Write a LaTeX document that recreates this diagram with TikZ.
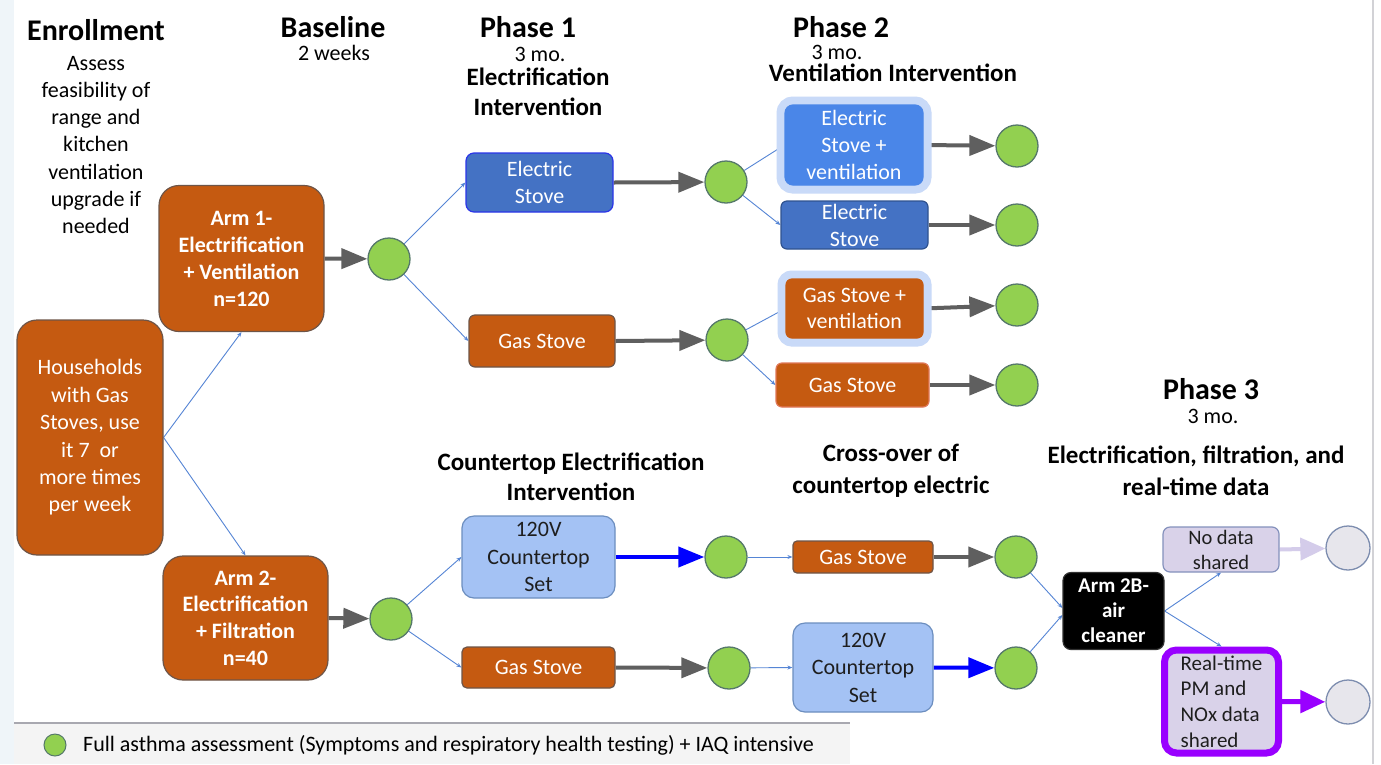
\documentclass[tikz,border=0pt]{standalone}
\usepackage{fontspec}
\setmainfont{Carlito}
\usetikzlibrary{arrows.meta,backgrounds}
\definecolor{orng}{HTML}{C55A11}
\definecolor{orngdraw}{HTML}{6E5548}
\definecolor{orngpale}{HTML}{E07858}
\definecolor{blueA}{HTML}{4472C4}
\definecolor{blueAdraw}{HTML}{2B35E8}
\definecolor{blueB}{HTML}{4A86E8}
\definecolor{blueBdraw}{HTML}{2F528F}
\definecolor{halocol}{HTML}{C9DAF8}
\definecolor{ltblue}{HTML}{A4C2F4}
\definecolor{ltbluedraw}{HTML}{6C8EBF}
\definecolor{lav}{HTML}{D9D2E9}
\definecolor{lavdraw}{HTML}{8491BC}
\definecolor{purp}{HTML}{9900FF}
\definecolor{lavarrow}{HTML}{D4CCEA}
\definecolor{grn}{HTML}{92D050}
\definecolor{grndraw}{HTML}{55786A}
\definecolor{gcirc}{HTML}{E7E6EC}
\definecolor{gcircdraw}{HTML}{7D8DAF}
\definecolor{thinblue}{HTML}{5585D5}
\definecolor{greyarrow}{HTML}{5F5F5F}
\definecolor{purebl}{HTML}{0000FF}
\definecolor{blackdraw}{HTML}{323232}
\definecolor{darktext}{HTML}{1E1E1E}
\definecolor{stripc}{HTML}{EFF5F9}
\definecolor{legbg}{HTML}{F4F4F4}
\definecolor{legline}{HTML}{A8A8B0}
\definecolor{edgec}{HTML}{D2D2D6}
\newcommand{\fsBox}{\fontsize{22}{27}\selectfont}
\newcommand{\fsTitle}{\fontsize{30}{36}\selectfont\bfseries}
\tikzset{
  box/.style={rectangle, draw, align=center, inner sep=0pt, text=white, font=\fsBox, line width=1.2pt},
  obox/.style={box, fill=orng, draw=orngdraw},
  circ/.style={circle, draw=grndraw, fill=grn, line width=1.3pt, minimum size=42pt, inner sep=0pt},
  gcircle/.style={circle, draw=gcircdraw, fill=gcirc, line width=1.3pt, minimum size=44pt, inner sep=0pt},
  halo/.style={preaction={draw=halocol, line width=17pt}},
  thinline/.style={draw=thinblue, line width=0.9pt, -{Stealth[length=5pt,width=4pt]}},
  thickgrey/.style={draw=greyarrow, line width=4pt, -{Triangle[length=26pt,width=20pt]}},
  thickblue/.style={draw=purebl, line width=4pt, -{Triangle[length=26pt,width=20pt]}},
  ttl/.style={font=\fsTitle, inner sep=0pt},
  sub/.style={inner sep=0pt, align=center},
  plain/.style={font=\fsBox, inner sep=0pt, align=center},
  single/.style={font=\fsBox, inner sep=0pt}
}
\begin{document}
\begin{tikzpicture}[x=1pt,y=-1pt]
\useasboundingbox (0,0) rectangle (1381,764);

% titles
\node[ttl] (tEnr) at (96,30) {Enrollment};
\node[plain, font=\fontsize{22}{27.2}\selectfont] (tAssess) at (96,145) {Assess\\feasibility of\\range and\\kitchen\\ventilation\\upgrade if\\needed};
\node[ttl] (tBase) at (333,27) {Baseline};
\node[single] (tBaseW) at (334,53) {2 weeks};
\node[ttl] (tP1) at (528,27) {Phase 1};
\node[single] (tP1m) at (540,54) {3 mo.};
\node[sub, font=\fontsize{25}{30}\selectfont\bfseries] (tP1s) at (538,92) {Electrification\\Intervention};
\node[ttl] (tP2) at (841,27) {Phase 2};
\node[single] (tP2m) at (837,52) {3 mo.};
\node[ttl, font=\fontsize{25}{30}\selectfont\bfseries] (tP2s) at (893,73) {Ventilation Intervention};
\node[ttl] (tP3) at (1211,389) {Phase 3};
\node[single] (tP3m) at (1213,416) {3 mo.};
\node[sub, font=\fontsize{25}{32}\selectfont\bfseries] (tP3s) at (1196,471) {Electrification, filtration, and\\real-time data};
\node[sub, font=\fontsize{25}{30}\selectfont\bfseries] (tCT) at (571,477) {Countertop Electrification\\Intervention};
\node[sub, font=\fontsize{25}{32}\selectfont\bfseries] (tCO) at (891,471) {Cross-over of\\countertop electric};

% left column
\node[obox, rounded corners=20pt, minimum width=146pt, minimum height=235pt, font=\fontsize{22}{27.4}\selectfont] (hh) at (90,437.5) {Households\\with Gas\\Stoves, use\\it 7~~or\\more times\\per week};
\node[obox, rounded corners=20pt, minimum width=165pt, minimum height=146pt, font=\fsBox\bfseries] (arm1) at (241.5,258.5) {Arm 1-\\Electrification\\+ Ventilation\\n=120};
\node[obox, rounded corners=20pt, minimum width=165pt, minimum height=124pt, font=\fontsize{22}{26.7}\selectfont\bfseries] (arm2) at (245.5,618) {Arm 2-\\Electrification\\+ Filtration\\n=40};
\node[circ] (b1) at (389,259) {};
\node[circ] (b2) at (391,619) {};

% phase 1
\node[box, fill=blueA, draw=blueAdraw, rounded corners=8pt, minimum width=147pt, minimum height=59pt] (es1) at (539.5,182.5) {Electric\\Stove};
\node[obox, rounded corners=6pt, minimum width=146pt, minimum height=52pt] (gs1) at (542,341) {Gas Stove};
\node[circ] (p1a) at (726,182) {};
\node[circ] (p1b) at (727,340) {};

% phase 2
\node[box, halo, fill=blueB, draw=blueB, rounded corners=8pt, minimum width=138pt, minimum height=80pt] (ev) at (854,145) {Electric\\Stove +\\ventilation};
\node[box, fill=blueA, draw=blueBdraw, rounded corners=6pt, minimum width=147pt, minimum height=48pt] (es2) at (854.5,225) {Electric\\Stove};
\node[box, halo, fill=orng, draw=orng, rounded corners=6pt, minimum width=137pt, minimum height=59pt, font=\fontsize{22}{26}\selectfont] (gv) at (854.5,308.5) {Gas Stove +\\ventilation};
\node[box, fill=orng, draw=orngpale, rounded corners=6pt, minimum width=153pt, minimum height=44pt] (gs2) at (852.5,385) {Gas Stove};
\node[circ] (e1) at (1017,146) {};
\node[circ] (e2) at (1017,225) {};
\node[circ] (e3) at (1017,305) {};
\node[circ] (e4) at (1017,385) {};

% countertop
\node[box, fill=ltblue, draw=ltbluedraw, text=darktext, rounded corners=12pt, minimum width=153pt, minimum height=82pt, font=\fontsize{22}{27.5}\selectfont] (ct1) at (538.5,557) {120V\\Countertop\\Set};
\node[obox, rounded corners=5pt, minimum width=153pt, minimum height=41pt] (gs3) at (538.5,667.5) {Gas Stove};
\node[circ] (c1) at (726,557) {};
\node[circ] (c2) at (729,668) {};

% cross-over
\node[obox, rounded corners=4pt, minimum width=140pt, minimum height=32pt] (gs4) at (863,557) {Gas Stove};
\node[box, fill=ltblue, draw=ltbluedraw, text=darktext, rounded corners=12pt, minimum width=140pt, minimum height=89pt, font=\fontsize{22}{27.5}\selectfont] (ct2) at (863,667.5) {120V\\Countertop\\Set};
\node[circ] (c3) at (1016,557) {};
\node[circ] (c4) at (1016,668) {};

% phase 3
\node[box, fill=black, draw=blackdraw, rounded corners=8pt, minimum width=101pt, minimum height=77pt, font=\fontsize{21}{25}\selectfont\bfseries] (a2b) at (1113.5,611) {Arm 2B-\\air\\cleaner};
\node[box, fill=lav, draw=lavdraw, text=darktext, rounded corners=7pt, minimum width=116pt, minimum height=45pt, font=\fontsize{20.5}{25}\selectfont] (nd) at (1221,549.5) {No data\\shared};
\node[box, fill=lav, draw=purp, line width=7pt, text=darktext, rounded corners=12pt, minimum width=114pt, minimum height=103pt, align=left, font=\fontsize{21}{25.7}\selectfont] (rt) at (1221.5,701.5) {Real-time\\PM and\\NOx data\\shared};
\node[gcircle] (g1) at (1348,548) {};
\node[gcircle] (g2) at (1348,702) {};

% legend
\node[circ, minimum size=22pt, line width=1pt] (lgc) at (55,745) {};
\node[anchor=west, font=\fsBox, inner sep=3pt] (lgt) at (80,745) {Full asthma assessment (Symptoms and respiratory health testing) + IAQ intensive};

\begin{scope}[on background layer]
\fill[white] (0,0) rectangle (1381,764);
\fill[stripc] (0,0) rectangle (14,764);
\fill[legbg] (14,723) rectangle (850,764);
\draw[legline, line width=1.5pt] (14,723) -- (850,723);
\draw[edgec, line width=2pt] (1373,0) -- (1373,764);

% thin connectors
\draw[thinline] (hh.east) -- (arm1.south);
\draw[thinline] (hh.east) -- (arm2.north);
\draw[thinline] (b1) -- (es1.west);
\draw[thinline] (b1) -- (gs1.west);
\draw[thinline] (p1a) -- (ev.west);
\draw[thinline] (p1a) -- (es2.west);
\draw[thinline] (p1b) -- (gv.west);
\draw[thinline] (p1b) -- (gs2.west);
\draw[thinline] (b2) -- (ct1.west);
\draw[thinline] (b2) -- (gs3.west);
\draw[thinline] (c1) -- (gs4.west);
\draw[thinline] (c2) -- (ct2.west);
\draw[thinline] (c3) -- ([yshift=3pt]a2b.west);
\draw[thinline] (c4) -- ([yshift=-4pt]a2b.west);
\draw[thinline] (a2b.east) -- (nd.south);
\draw[thinline] (a2b.east) -- (rt.north);

% thick arrows
\draw[thickgrey] (arm1.east) -- (b1);
\draw[thickgrey] (arm2.east) -- (b2);
\draw[thickgrey] (es1.east) -- (p1a);
\draw[thickgrey] (gs1.east) -- (p1b);
\draw[thickgrey] (ev.east) -- (e1);
\draw[thickgrey] (es2.east) -- (e2);
\draw[thickgrey] (gv.east) -- (e3);
\draw[thickgrey] (gs2.east) -- (e4);
\draw[thickgrey] (gs3.east) -- (c2);
\draw[thickgrey] (gs4.east) -- (c3);
\draw[thickblue] (ct1.east) -- (c1);
\draw[thickblue] (ct2.east) -- (c4);
\draw[draw=lavarrow, line width=4pt, -{Triangle[length=25pt,width=22pt]}] (nd.east) -- (g1);
\draw[draw=purp, line width=5pt, -{Triangle[length=25pt,width=22pt]}] (rt.east) -- (g2);
\end{scope}
\end{tikzpicture}
\end{document}
